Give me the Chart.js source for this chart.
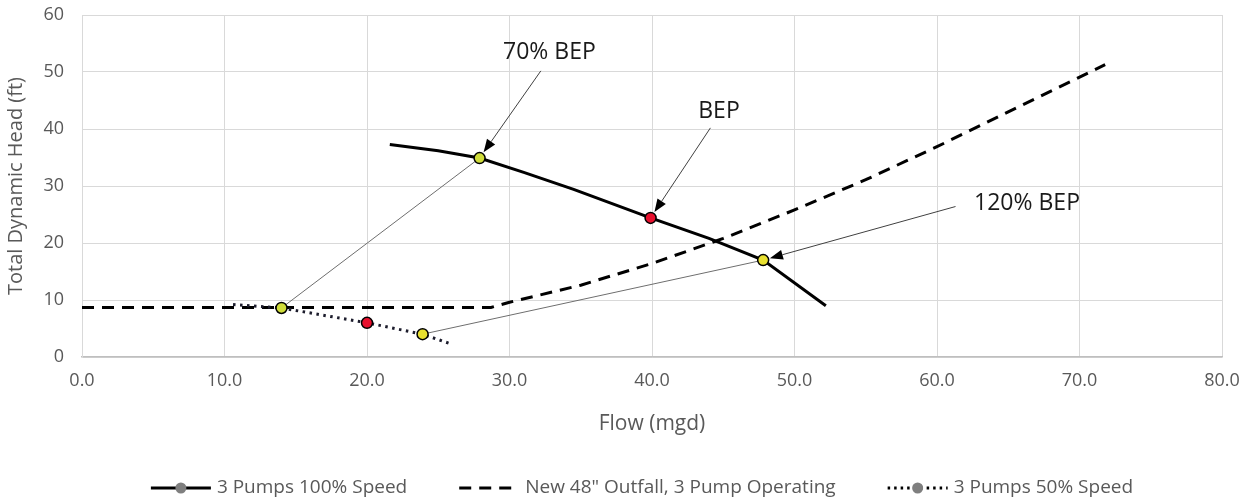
<!DOCTYPE html>
<html>
<head>
<meta charset="utf-8">
<script src="https://cdn.jsdelivr.net/npm/chart.js@4"></script>
<style>
  html, body { margin: 0; padding: 0; background: #fff; }
  #wrap { width: 1258px; height: 499px; }
</style>
</head>
<body>
<div id="wrap"><canvas id="pumpChart"></canvas></div>
<script>
// Pump curve at 100% speed (flow mgd, head ft)
var fullSpeedFlow = [21.6, 25.0, 27.9, 31.0, 34.5, 39.9, 44.0, 47.8, 52.2];
var fullSpeedHead = [37.3, 36.2, 34.9, 32.4, 29.4, 24.4, 20.8, 17.0, 9.0];

// System curve, new 48" outfall
var systemFlow = [0.0, 28.7, 30.0, 35.0, 40.0, 45.0, 50.0, 55.0, 60.0, 65.0, 71.8];
var systemHead = [8.7, 8.7, 9.6, 12.6, 16.4, 20.8, 25.8, 31.1, 36.9, 43.0, 51.3];

// Pump curve at 50% speed
var halfSpeedFlow = [10.6, 14.0, 20.0, 23.9, 26.0];
var halfSpeedHead = [9.2, 8.6, 6.0, 4.0, 2.2];

// which points get a marker, and its fill
var fullSpeedMarks = [null, null, '#cfdc3a', null, null, '#e8102e', null, '#e8e030', null];
var halfSpeedMarks = [null, '#cfdc3a', '#e8102e', '#e8e030', null];

// affinity lines joining 100% and 50% operating points
var affinityLines = [
    [[27.9, 34.9], [14.0, 8.6]],
    [[47.8, 17.0], [23.9, 4.0]]
];

// callout labels: text position, arrow start, arrow target
var callouts = [
    { text: '70% BEP', tx: 32.8, ty: 53.4, sx: 32.2, sy: 50.2, px: 27.9, py: 34.9, align: 'center' },
    { text: 'BEP', tx: 44.7, ty: 43.0, sx: 44.1, sy: 40.2, px: 39.9, py: 24.4, align: 'center' },
    { text: '120% BEP', tx: 62.6, ty: 27.0, sx: 61.3, sy: 26.4, px: 47.8, py: 17.0, align: 'left' }
];

var legendNames = ['3 Pumps 100% Speed', 'New 48" Outfall, 3 Pump Operating', '3 Pumps 50% Speed'];

var xTicks = [0, 10, 20, 30, 40, 50, 60, 70, 80];
var yTicks = [0, 10, 20, 30, 40, 50, 60];

var FONT = "'Open Sans', 'DejaVu Sans', sans-serif";

function toPoints(xs, ys) {
    return xs.map(function (x, i) { return { x: x, y: ys[i] }; });
}

// draws arrows + labels and the legend row
var calloutPlugin = {
    id: 'callouts',
    afterDatasetsDraw: function (chart) {
        var ctx = chart.ctx, xs = chart.scales.x, ys = chart.scales.y;
        ctx.save();
        callouts.forEach(function (c) {
            var x0 = xs.getPixelForValue(c.sx), y0 = ys.getPixelForValue(c.sy);
            var x1 = xs.getPixelForValue(c.px), y1 = ys.getPixelForValue(c.py);
            var dx = x1 - x0, dy = y1 - y0, len = Math.sqrt(dx * dx + dy * dy);
            var ux = dx / len, uy = dy / len;
            var tipX = x1 - ux * 7, tipY = y1 - uy * 7;
            var baseX = tipX - ux * 13, baseY = tipY - uy * 13;
            ctx.strokeStyle = '#404040';
            ctx.lineWidth = 1;
            ctx.beginPath();
            ctx.moveTo(x0, y0);
            ctx.lineTo(baseX, baseY);
            ctx.stroke();
            ctx.fillStyle = '#000';
            ctx.beginPath();
            ctx.moveTo(tipX, tipY);
            ctx.lineTo(baseX - uy * 5, baseY + ux * 5);
            ctx.lineTo(baseX + uy * 5, baseY - ux * 5);
            ctx.closePath();
            ctx.fill();
            ctx.font = '23px ' + FONT;
            ctx.fillStyle = '#1a1a1a';
            ctx.textAlign = c.align;
            ctx.textBaseline = 'middle';
            ctx.fillText(c.text, xs.getPixelForValue(c.tx), ys.getPixelForValue(c.ty));
        });
        ctx.restore();
    },
    afterDraw: function (chart) {
        var ctx = chart.ctx;
        var iconW = 60, iconGap = 6, itemGap = 52, y = 488;
        ctx.save();
        ctx.font = '19px ' + FONT;
        var widths = legendNames.map(function (t) { return ctx.measureText(t).width; });
        var total = widths.reduce(function (a, b) { return a + b; }, 0) + legendNames.length * (iconW + iconGap) + (legendNames.length - 1) * itemGap;
        var x = chart.width / 2 + 13 - total / 2;
        legendNames.forEach(function (name, i) {
            ctx.strokeStyle = '#000';
            ctx.lineWidth = 3;
            ctx.lineCap = 'butt';
            if (i === 1) ctx.setLineDash([12, 8]);
            else if (i === 2) ctx.setLineDash([2.5, 4]);
            else ctx.setLineDash([]);
            ctx.beginPath();
            ctx.moveTo(x, y);
            ctx.lineTo(x + iconW, y);
            ctx.stroke();
            ctx.setLineDash([]);
            if (i !== 1) {
                ctx.fillStyle = '#7f7f7f';
                ctx.beginPath();
                ctx.arc(x + iconW / 2, y, 5.5, 0, Math.PI * 2);
                ctx.fill();
            }
            ctx.fillStyle = '#595959';
            ctx.textAlign = 'left';
            ctx.textBaseline = 'middle';
            ctx.fillText(name, x + iconW + iconGap, y);
            x += iconW + iconGap + widths[i] + itemGap;
        });
        ctx.restore();
    }
};

var datasets = [];

affinityLines.forEach(function (seg) {
    datasets.push({
        data: seg.map(function (p) { return { x: p[0], y: p[1] }; }),
        showLine: true,
        borderColor: '#6e6e6e',
        borderWidth: 1,
        pointRadius: 0,
        order: 5
    });
});

datasets.push({
    label: legendNames[1],
    data: toPoints(systemFlow, systemHead),
    showLine: true,
    borderColor: '#000',
    borderWidth: 3,
    borderDash: [12, 8],
    pointRadius: 0,
    order: 4
});

datasets.push({
    label: legendNames[0],
    data: toPoints(fullSpeedFlow, fullSpeedHead),
    showLine: true,
    borderColor: '#000',
    borderWidth: 3,
    pointRadius: fullSpeedMarks.map(function (c) { return c ? 5.5 : 0; }),
    pointBackgroundColor: fullSpeedMarks.map(function (c) { return c || '#7f7f7f'; }),
    pointBorderColor: '#000',
    pointBorderWidth: 1.5,
    order: 2
});

datasets.push({
    label: legendNames[2],
    data: toPoints(halfSpeedFlow, halfSpeedHead),
    showLine: true,
    borderColor: '#1c1c2c',
    borderWidth: 3,
    borderDash: [2.5, 4.5],
    pointRadius: halfSpeedMarks.map(function (c) { return c ? 5.5 : 0; }),
    pointBackgroundColor: halfSpeedMarks.map(function (c) { return c || '#7f7f7f'; }),
    pointBorderColor: '#000',
    pointBorderWidth: 1.5,
    order: 1
});

var ctx = document.getElementById('pumpChart').getContext('2d');
var pumpChart = new Chart(ctx, {
    type: 'scatter',
    data: { datasets: datasets },
    plugins: [calloutPlugin],
    options: {
        responsive: true,
        maintainAspectRatio: false,
        animation: false,
        layout: { padding: { top: 15, right: 36, bottom: 57, left: 0 } },
        plugins: {
            legend: { display: false },
            tooltip: { enabled: false }
        },
        scales: {
            x: {
                type: 'linear',
                min: xTicks[0],
                max: xTicks[xTicks.length - 1],
                afterBuildTicks: function (axis) { axis.ticks = xTicks.map(function (v) { return { value: v }; }); },
                afterFit: function (axis) {
                    axis.height = 85;
                    axis.paddingLeft = 0;
                    axis.paddingRight = 0;
                },
                grid: { color: '#d9d9d9', lineWidth: 1, drawTicks: false },
                border: { color: '#bfbfbf', width: 1.5 },
                ticks: {
                    padding: 13,
                    color: '#595959',
                    font: { family: FONT, size: 18 },
                    callback: function (v) { return Number(v).toFixed(1); }
                },
                title: {
                    display: true,
                    text: 'Flow (mgd)',
                    color: '#595959',
                    font: { family: FONT, size: 21 },
                    padding: { top: 0, bottom: 5 }
                }
            },
            y: {
                type: 'linear',
                min: yTicks[0],
                max: yTicks[yTicks.length - 1],
                afterBuildTicks: function (axis) { axis.ticks = yTicks.map(function (v) { return { value: v }; }); },
                afterFit: function (axis) {
                    axis.width = 82;
                    axis.paddingTop = 0;
                    axis.paddingBottom = 0;
                },
                grid: { color: '#d9d9d9', lineWidth: 1, drawTicks: false },
                border: { color: '#d9d9d9', width: 1 },
                ticks: {
                    padding: 18,
                    color: '#595959',
                    font: { family: FONT, size: 18 }
                },
                title: {
                    display: true,
                    text: 'Total Dynamic Head (ft)',
                    color: '#595959',
                    font: { family: FONT, size: 20 },
                    padding: { top: 4, bottom: 0 }
                }
            }
        }
    }
});
</script>
</body>
</html>
